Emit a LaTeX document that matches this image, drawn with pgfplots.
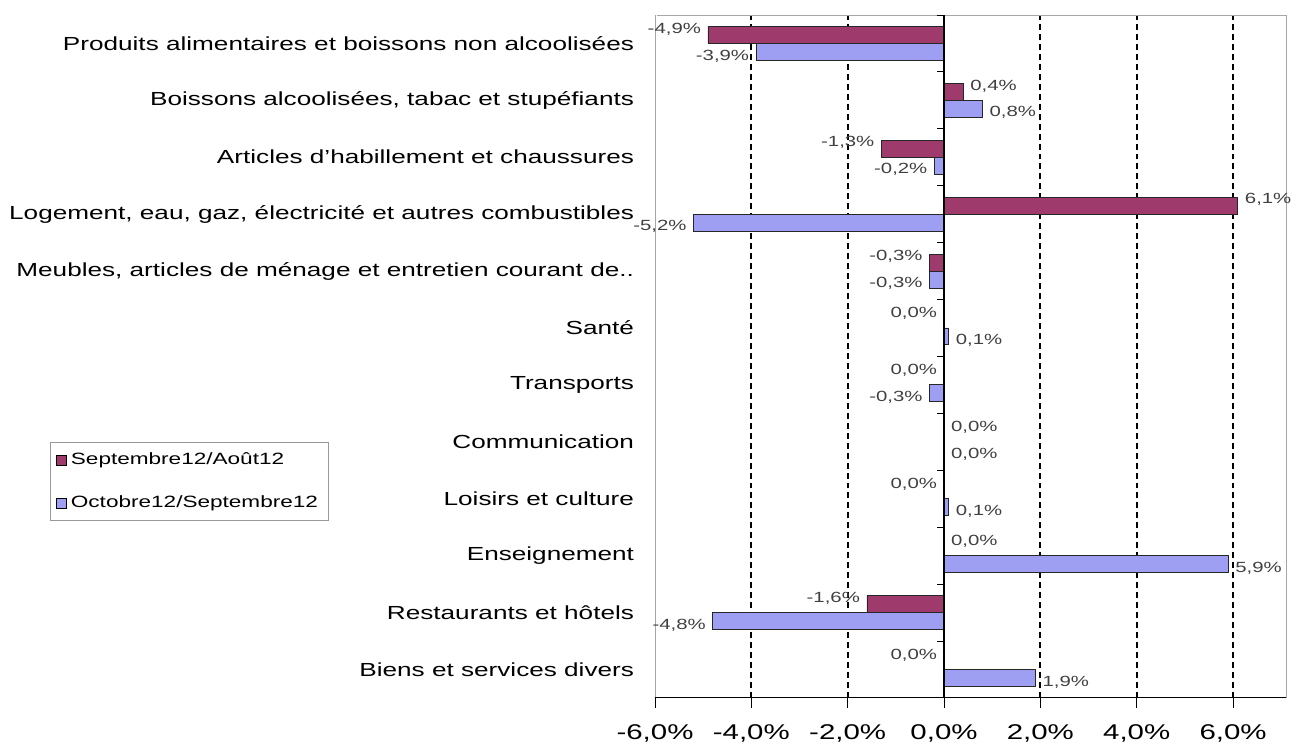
\documentclass[border=0pt]{standalone}
\usepackage{pgfplots}
\pgfplotsset{compat=1.18}
\usepackage{pgfplotstable}
\usepackage{fontspec}
\setmainfont[FakeStretch=1.38]{Liberation Sans}
\definecolor{sepc}{HTML}{9E3A6C}
\definecolor{octc}{HTML}{9E9EF2}

% Septembre12/Août12 -- labels left of bar end
\pgfplotstableread{
y x m
12 -4.9 -4,9
10 -1.3 -1,3
8 -0.3 -0,3
7 -0.001 0,0
6 -0.001 0,0
4 -0.001 0,0
2 -1.6 -1,6
1 -0.001 0,0
}\sepneg
% Septembre12/Août12 -- labels right of bar end
\pgfplotstableread{
y x m
11 0.4 0,4
9 6.1 6,1
5 0 0,0
3 0 0,0
}\seppos
% Octobre12/Septembre12 -- labels left
\pgfplotstableread{
y x m
12 -3.9 -3,9
10 -0.2 -0,2
9 -5.2 -5,2
8 -0.3 -0,3
6 -0.3 -0,3
2 -4.8 -4,8
}\octneg
% Octobre12/Septembre12 -- labels right
\pgfplotstableread{
y x m
11 0.8 0,8
7 0.1 0,1
5 0 0,0
4 0.1 0,1
3 5.9 5,9
1 1.9 1,9
}\octpos

\begin{document}
\begin{tikzpicture}
\begin{axis}[name=ax, scale only axis, width=316.5pt, height=342.5pt,
  clip=false,
  xbar, bar width=8.5pt,
  xmin=-6, xmax=7.1, ymin=0.5, ymax=12.5,
  xtick pos=bottom, ytick pos=left,
  xtick={-6,-4,-2,0,2,4,6},
  xticklabels={{-6,0\%},{-4,0\%},{-2,0\%},{0,0\%},{2,0\%},{4,0\%},{6,0\%}},
  xticklabel style={font=\fontsize{10.7}{12}\selectfont, text=black, yshift=-10pt},
  xmajorgrids,
  major grid style={black, line width=1pt, dash pattern=on 3pt off 2pt},
  ytick={1,...,12},
  yticklabels={Biens et services divers, Restaurants et hôtels, Enseignement, Loisirs et culture, Communication, Transports, Santé, {Meubles, articles de ménage et entretien courant de..}, {Logement, eau, gaz, électricité et autres combustibles}, {Articles d'habillement et chaussures}, {Boissons alcoolisées, tabac et stupéfiants}, Produits alimentaires et boissons non alcoolisées},
  yticklabel style={font=\fontsize{9.5}{11}\selectfont, text=black, xshift=-7pt},
  major tick length=0pt,
  axis line style={gray!70},
  nodes near coords={\pgfplotspointmeta\%},
  point meta=explicit symbolic,
  legend style={at={(-0.959,0.374)}, anchor=north west, draw=gray!80,
    font=\fontsize{8.2}{10}\selectfont, inner sep=3pt, row sep=10pt,
    legend cell align=left},
  legend image code/.code={\draw[#1, draw=black] (0pt,-2.5pt) rectangle (5pt,2.5pt);},
]
\addplot[fill=sepc, draw=black!85, bar shift=4.25pt,
  every node near coord/.append style={anchor=east, yshift=3pt, font=\fontsize{7.4}{8}\selectfont, text=black!75}]
  table[x=x, y=y, meta=m] {\sepneg};
\addplot[forget plot, fill=sepc, draw=black!85, bar shift=4.25pt,
  every node near coord/.append style={anchor=west, yshift=3pt, font=\fontsize{7.4}{8}\selectfont, text=black!75}]
  table[x=x, y=y, meta=m] {\seppos};
\addplot[fill=octc, draw=black!85, bar shift=-4.25pt,
  every node near coord/.append style={anchor=east, yshift=-2pt, font=\fontsize{7.4}{8}\selectfont, text=black!75}]
  table[x=x, y=y, meta=m] {\octneg};
\addplot[forget plot, fill=octc, draw=black!85, bar shift=-4.25pt,
  every node near coord/.append style={anchor=west, yshift=-2pt, font=\fontsize{7.4}{8}\selectfont, text=black!75}]
  table[x=x, y=y, meta=m] {\octpos};
\legend{Septembre12/Août12, Octobre12/Septembre12}
\draw[black, line width=0.8pt] (axis cs:0,0.5) -- (axis cs:0,12.5);
\pgfplotsinvokeforeach{0,...,12}{\draw[black] (axis cs:0,#1.5) -- ++(-3.5pt,0pt);}
\draw[white, line width=2.4pt] (rel axis cs:0,0) -- (rel axis cs:0,1);
\draw[gray!70] (rel axis cs:0,0) -- (rel axis cs:0,1);
\draw[black] (rel axis cs:0,0) -- (rel axis cs:1,0);
\pgfplotsinvokeforeach{-6,-4,-2,0,2,4,6}{\draw[black] (axis cs:#1,0.5) -- ++(0pt,-5pt);}
\end{axis}
\path ([shift={(-328.5pt,-24.5pt)}]ax.south west) rectangle ([shift={(4pt,7.5pt)}]ax.north east);
\end{tikzpicture}
\end{document}
